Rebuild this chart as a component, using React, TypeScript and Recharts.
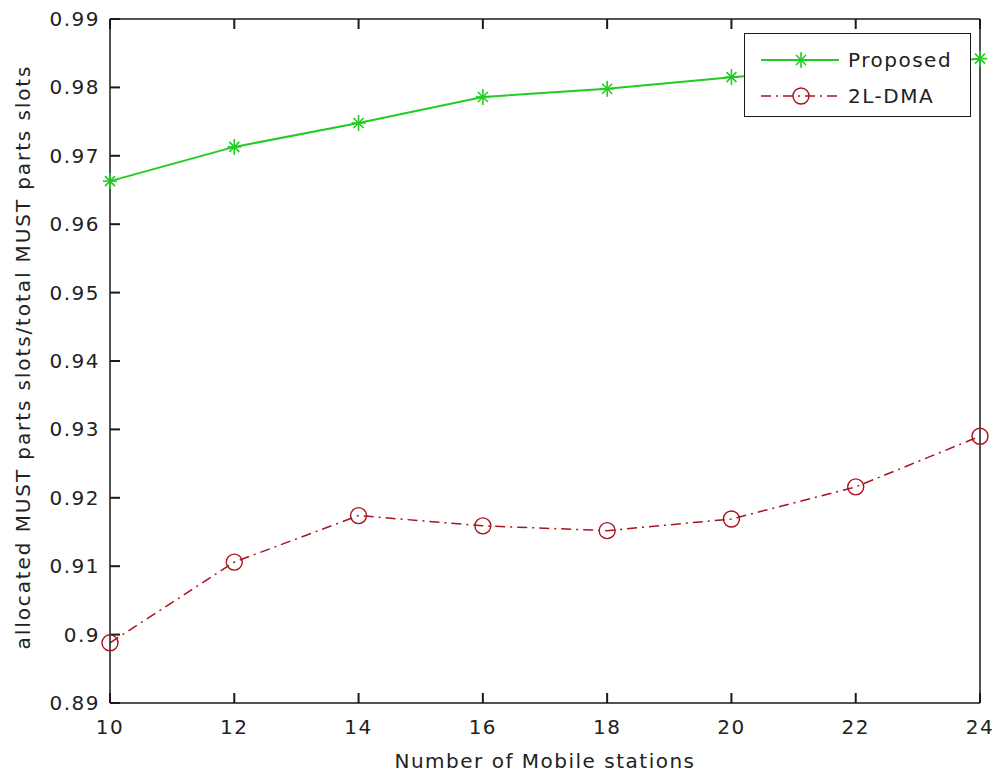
import { LineChart, Line, XAxis, YAxis, Legend } from 'recharts'

const xValues = [10, 12, 14, 16, 18, 20, 22, 24]
const proposed = [0.9663, 0.9713, 0.9748, 0.9786, 0.9798, 0.9815, 0.9829, 0.9842]
const twoLDma = [0.8988, 0.9106, 0.9174, 0.9159, 0.9152, 0.9169, 0.9216, 0.929]
const xTicks = [10, 12, 14, 16, 18, 20, 22, 24]
const yTicks = [0.89, 0.9, 0.91, 0.92, 0.93, 0.94, 0.95, 0.96, 0.97, 0.98, 0.99]
const legendOrder = ['proposed', 'dma']

const GREEN = '#22cc22'
const RED = '#a8141e'
const AXIS = '#1a1a1a'
const FONT = '"DejaVu Sans", Verdana, sans-serif'
const TICK = -10 // negative = ticks point into the plot, like matlab

const data = xValues.map((x, i) => ({ x, proposed: proposed[i], dma: twoLDma[i] }))

const fmtY = (v: number) => String(Number(v.toFixed(2)))

const textStyle = { fontFamily: FONT, fontSize: 20, letterSpacing: 1.5, fill: '#222' }

// labels are placed from the inner end of the tick
const BottomTick = ({ x, y, payload }: any) => (
  <text x={x} y={y + 41} textAnchor="middle" style={textStyle}>
    {payload.value}
  </text>
)

const LeftTick = ({ x, y, payload }: any) => (
  <text x={x - 20} y={y + 7} textAnchor="end" style={textStyle}>
    {fmtY(payload.value)}
  </text>
)

const NoTick = () => <g />

const StarDot = ({ cx, cy }: any) => {
  if (cx == null || cy == null) return null
  const r = 7
  const d = 5
  return (
    <g stroke={GREEN} strokeWidth={1.6}>
      <line x1={cx - r} y1={cy} x2={cx + r} y2={cy} />
      <line x1={cx} y1={cy - r - 1} x2={cx} y2={cy + r + 1} />
      <line x1={cx - d} y1={cy - d} x2={cx + d} y2={cy + d} />
      <line x1={cx - d} y1={cy + d} x2={cx + d} y2={cy - d} />
    </g>
  )
}

const CircleDot = ({ cx, cy }: any) => {
  if (cx == null || cy == null) return null
  return <circle cx={cx} cy={cy} r={8} fill="none" stroke={RED} strokeWidth={1.4} />
}

const LegendBox = ({ payload }: any) => {
  const items = legendOrder
    .map((k) => (payload || []).find((p: any) => p.dataKey === k))
    .filter(Boolean)
  return (
    <div style={{ width: 225, height: 82, border: `1.5px solid ${AXIS}`, background: '#fff', position: 'relative' }}>
      {items.map((item: any, i: number) => {
        const isStar = item.dataKey === 'proposed'
        const cy = i === 0 ? 26 : 62
        return (
          <div key={item.value} style={{ position: 'absolute', left: 0, top: cy - 15, height: 30, width: 225 }}>
            <svg width={100} height={30} style={{ position: 'absolute', left: 0, top: 0 }}>
              <line
                x1={16}
                y1={15}
                x2={94}
                y2={15}
                stroke={isStar ? GREEN : RED}
                strokeWidth={isStar ? 2 : 1.5}
                strokeDasharray={isStar ? undefined : '10 5 2 5'}
              />
              {isStar ? <StarDot cx={56} cy={15} /> : <CircleDot cx={56} cy={15} />}
            </svg>
            <span
              style={{
                position: 'absolute',
                left: 103,
                top: 2,
                fontFamily: FONT,
                fontSize: 20,
                letterSpacing: 1.5,
                color: '#222',
                lineHeight: '26px',
              }}
            >
              {item.value}
            </span>
          </div>
        )
      })}
    </div>
  )
}

const axisLine = { stroke: AXIS, strokeWidth: 1.5 }
const tickLine = { stroke: AXIS, strokeWidth: 2 }

export default function App() {
  return (
    <div style={{ position: 'absolute', left: 0, top: 0, width: 996, height: 778, background: '#fff' }}>
      <LineChart width={996} height={778} data={data} margin={{ top: 18, right: 15, bottom: 15, left: 50 }}>
        <XAxis
          dataKey="x"
          type="number"
          domain={[10, 24]}
          ticks={xTicks}
          height={60}
          tickSize={TICK}
          tickMargin={0}
          axisLine={axisLine}
          tickLine={tickLine}
          tick={<BottomTick />}
          label={(props: any) => {
            const vb = props.viewBox || {}
            return (
              <text x={vb.x + vb.width / 2} y={768} textAnchor="middle" style={textStyle}>
                Number of Mobile stations
              </text>
            )
          }}
        />
        <XAxis
          xAxisId="top"
          dataKey="x"
          type="number"
          orientation="top"
          domain={[10, 24]}
          ticks={xTicks}
          height={1}
          tickSize={TICK}
          tickMargin={0}
          axisLine={axisLine}
          tickLine={tickLine}
          tick={<NoTick />}
        />
        <YAxis
          type="number"
          domain={[0.89, 0.99]}
          ticks={yTicks}
          width={60}
          tickSize={TICK}
          tickMargin={0}
          axisLine={axisLine}
          tickLine={tickLine}
          tick={<LeftTick />}
          label={(props: any) => {
            const vb = props.viewBox || {}
            const cy = vb.y + vb.height / 2 - 4
            return (
              <text
                x={30}
                y={cy}
                transform={`rotate(-90, 30, ${cy})`}
                textAnchor="middle"
                style={{ ...textStyle, letterSpacing: 1.9 }}
              >
                allocated MUST parts slots/total MUST parts slots
              </text>
            )
          }}
        />
        <YAxis
          yAxisId="right"
          type="number"
          orientation="right"
          domain={[0.89, 0.99]}
          ticks={yTicks}
          width={1}
          tickSize={TICK}
          tickMargin={0}
          axisLine={axisLine}
          tickLine={tickLine}
          tick={<NoTick />}
        />
        <Line
          dataKey="proposed"
          name="Proposed"
          stroke={GREEN}
          strokeWidth={2}
          dot={<StarDot />}
          activeDot={false}
          isAnimationActive={false}
        />
        <Line
          dataKey="dma"
          name="2L-DMA"
          stroke={RED}
          strokeWidth={1.5}
          strokeDasharray="10 5 2 5"
          dot={<CircleDot />}
          activeDot={false}
          isAnimationActive={false}
        />
        <Legend
          layout="vertical"
          align="center"
          verticalAlign="middle"
          content={<LegendBox />}
          wrapperStyle={{ left: 744, top: 33, width: 228, height: 85 }}
        />
      </LineChart>
    </div>
  )
}
